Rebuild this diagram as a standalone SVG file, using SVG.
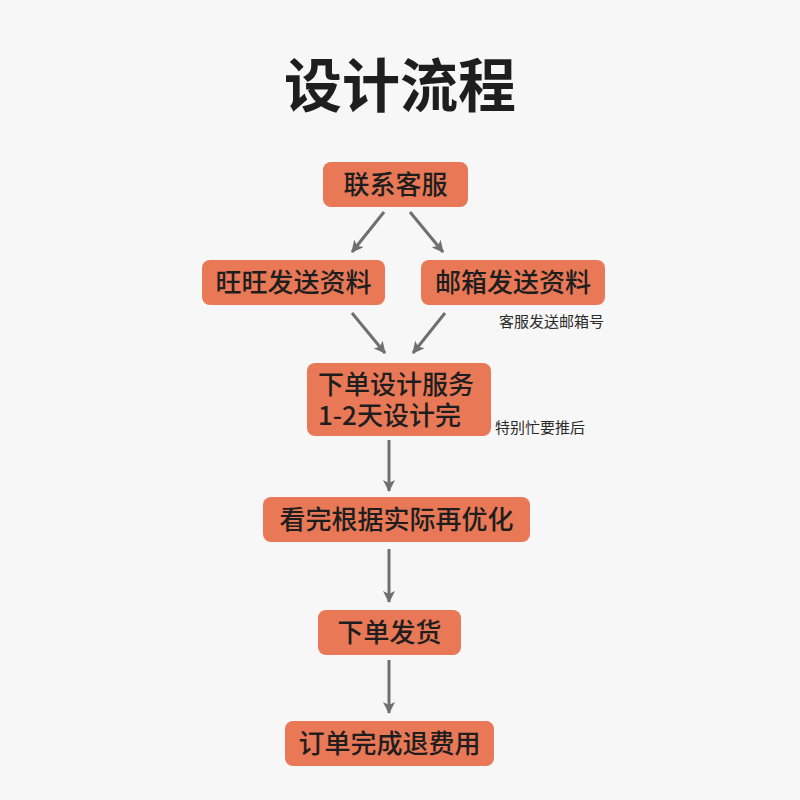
<svg xmlns="http://www.w3.org/2000/svg" width="800" height="800" viewBox="0 0 800 800">
<defs>
<marker id="ah" viewBox="0 0 12 12" refX="11" refY="6" markerWidth="12" markerHeight="12" markerUnits="userSpaceOnUse" orient="auto">
<path d="M0,0 L12,6 L0,12 L3,6 Z" fill="#6f6f6f"/>
</marker>
<style>
.box{fill:#e97856;}
.t{font-family:"Noto Sans CJK SC","Liberation Sans",sans-serif;font-size:26px;fill:#1e1e1e;font-weight:500;}
.s{font-family:"Noto Sans CJK SC","Liberation Sans",sans-serif;font-size:15px;fill:#2a2a2a;}
.c{stroke:#6f6f6f;stroke-width:3;fill:none;marker-end:url(#ah);}
</style>
</defs>
<rect width="800" height="800" fill="#f7f7f7"/>
<text x="400" y="107" text-anchor="middle" font-family="Noto Sans CJK SC, sans-serif" font-size="58" font-weight="bold" fill="#1e1e1e">设计流程</text>
<g id="connectors">
<line class="c" x1="384" y1="212" x2="352" y2="252"/>
<line class="c" x1="410" y1="212" x2="443" y2="252"/>
<line class="c" x1="352" y1="313" x2="385" y2="353"/>
<line class="c" x1="445" y1="313" x2="413" y2="353"/>
<line class="c" x1="389" y1="440" x2="389" y2="491"/>
<line class="c" x1="389" y1="549" x2="389" y2="602"/>
<line class="c" x1="389" y1="660" x2="389" y2="713"/>
</g>
<g id="n1"><rect class="box" x="323" y="162" width="145" height="45" rx="8"/><text class="t" x="395.5" y="194" text-anchor="middle">联系客服</text></g>
<g id="n2"><rect class="box" x="202" y="260" width="183" height="45" rx="8"/><text class="t" x="293.5" y="292" text-anchor="middle">旺旺发送资料</text></g>
<g id="n3"><rect class="box" x="421" y="260" width="184" height="45" rx="8"/><text class="t" x="513" y="292" text-anchor="middle">邮箱发送资料</text><text class="s" x="604" y="327" text-anchor="end">客服发送邮箱号</text></g>
<g id="n4"><rect class="box" x="307" y="363" width="184" height="73" rx="8"/><text class="t"><tspan x="318" y="394">下单设计服务</tspan><tspan x="318" y="425">1-2天设计完</tspan></text><text class="s" x="495" y="433">特别忙要推后</text></g>
<g id="n5"><rect class="box" x="263" y="497" width="267" height="45" rx="8"/><text class="t" x="396.5" y="529" text-anchor="middle">看完根据实际再优化</text></g>
<g id="n6"><rect class="box" x="318" y="610" width="143" height="45" rx="8"/><text class="t" x="389.5" y="642" text-anchor="middle">下单发货</text></g>
<g id="n7"><rect class="box" x="285" y="721" width="209" height="45" rx="8"/><text class="t" x="389.5" y="753" text-anchor="middle">订单完成退费用</text></g>
</svg>
